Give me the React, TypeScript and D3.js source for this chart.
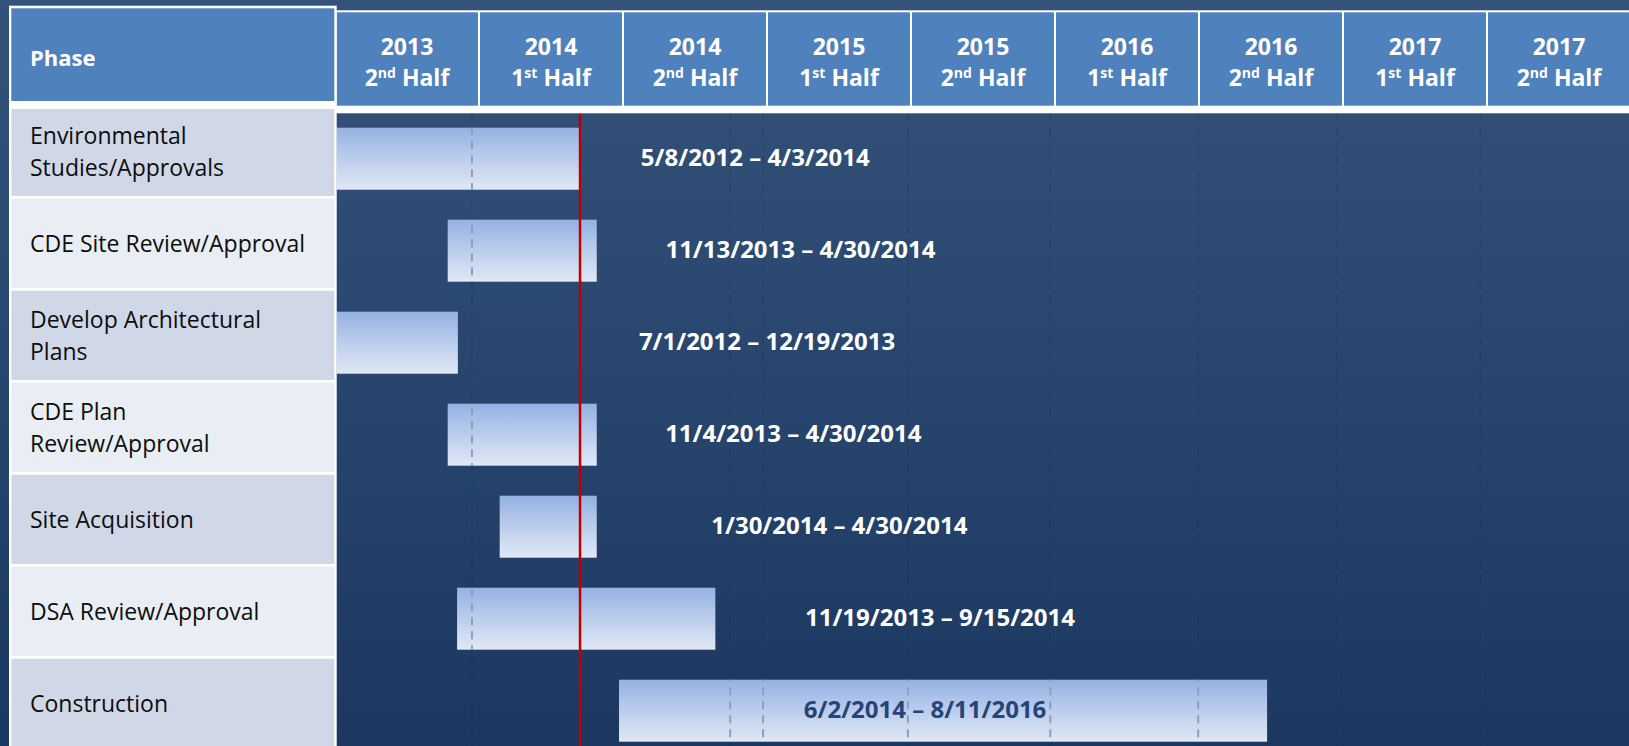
import React from "react";
import * as d3 from "d3";

// ---------------- data ----------------
const phaseNames = [
  "Environmental Studies/Approvals",
  "CDE Site Review/Approval",
  "Develop Architectural Plans",
  "CDE Plan Review/Approval",
  "Site Acquisition",
  "DSA Review/Approval",
  "Construction",
];
const phaseLabelLines = [
  ["Environmental", "Studies/Approvals"],
  ["CDE Site Review/Approval"],
  ["Develop Architectural", "Plans"],
  ["CDE Plan", "Review/Approval"],
  ["Site Acquisition"],
  ["DSA Review/Approval"],
  ["Construction"],
];
// bar extents as drawn on the half-year axis
const barStarts = ["2012-05-08", "2013-11-22", "2012-07-01", "2013-11-22", "2014-01-27", "2013-12-04", "2014-06-26"];
const barEnds = ["2014-05-07", "2014-05-29", "2013-12-05", "2014-05-29", "2014-05-29", "2014-10-27", "2016-09-26"];
const dateRangeLabels = [
  "5/8/2012 – 4/3/2014",
  "11/13/2013 – 4/30/2014",
  "7/1/2012 – 12/19/2013",
  "11/4/2013 – 4/30/2014",
  "1/30/2014 – 4/30/2014",
  "11/19/2013 – 9/15/2014",
  "6/2/2014 – 8/11/2016",
];
// where each date label is centred on the axis
const labelCenters = ["2014-12-17", "2015-02-12", "2015-01-01", "2015-02-03", "2015-04-02", "2015-08-07", "2015-07-19"];
const periodYears = [2013, 2014, 2014, 2015, 2015, 2016, 2016, 2017, 2017];
const periodHalves = [2, 1, 2, 1, 2, 1, 2, 1, 2];
const halfSuffix: Record<number, string> = { 1: "st", 2: "nd" };
const todayDate = "2014-05-08";
const gridDates = ["2013-12-23", "2014-11-15", "2014-12-27", "2015-06-27", "2015-12-26", "2016-06-30", "2016-12-24", "2017-06-23"];

// ---------------- layout ----------------
const W = 1629;
const H = 746;
const X0 = 335;
const COL_W = 144;
const ROW_TOP = 106.7;
const ROW_H = 92;
const FONT = "'Open Sans', 'Noto Sans', sans-serif";

const parse = d3.timeParse("%Y-%m-%d");

export default function App() {
  const periodStarts = periodYears.map((y, i) => new Date(y, periodHalves[i] === 1 ? 0 : 6, 1));
  const last = periodStarts.length - 1;
  const periodEnd = new Date(periodYears[last] + (periodHalves[last] === 2 ? 1 : 0), periodHalves[last] === 2 ? 0 : 6, 1);
  const domain = [...periodStarts, periodEnd];
  const x = d3
    .scaleTime()
    .domain(domain)
    .range(domain.map((_, i) => X0 + COL_W * i));

  const y = d3
    .scaleBand<string>()
    .domain(phaseNames)
    .range([ROW_TOP, ROW_TOP + ROW_H * phaseNames.length]);

  const plotLeft = X0 + 1.5;
  const headerBottom = 113.3;

  const bars = phaseNames.map((p, i) => {
    const x1 = Math.max(plotLeft, x(parse(barStarts[i])!));
    const x2 = x(parse(barEnds[i])!);
    const top = (y(p) as number) + 21;
    return { p, x1, x2, top, h: 62 };
  });

  const todayX = x(parse(todayDate)!);

  return (
    <svg
      width={W}
      height={H}
      style={{ position: "absolute", left: 0, top: 0, display: "block" }}
      fontFamily={FONT}
    >
      <defs>
        <linearGradient id="bg" x1="0" y1="0" x2="0" y2="1">
          <stop offset="0" stopColor="#34537b" />
          <stop offset="1" stopColor="#1c3860" />
        </linearGradient>
        <linearGradient id="barGrad" x1="0" y1="0" x2="0" y2="1">
          <stop offset="0" stopColor="#95b2e3" />
          <stop offset="1" stopColor="#e1e8f5" />
        </linearGradient>
        <clipPath id="barClip">
          {bars.map((b, i) => (
            <rect key={i} x={b.x1} y={b.top} width={b.x2 - b.x1} height={b.h} />
          ))}
        </clipPath>
      </defs>

      <rect x={0} y={0} width={W} height={H} fill="url(#bg)" />

      {/* faint grid lines on the background */}
      {gridDates.map((d, i) => {
        const gx = x(parse(d)!);
        return (
          <line key={i} x1={gx} x2={gx} y1={headerBottom} y2={H} stroke="#17304f" strokeOpacity={0.28} strokeWidth={1.5} strokeDasharray="8,6" />
        );
      })}

      {/* bars */}
      {bars.map((b, i) => (
        <rect key={i} x={b.x1} y={b.top} width={b.x2 - b.x1} height={b.h} fill="url(#barGrad)" />
      ))}

      {/* grid lines visible over the bars */}
      <g clipPath="url(#barClip)">
        {gridDates.map((d, i) => {
          const gx = x(parse(d)!);
          return (
            <line key={i} x1={gx} x2={gx} y1={headerBottom} y2={H} stroke="#8aa0bc" strokeWidth={2} strokeDasharray="8,6" />
          );
        })}
      </g>

      {/* date range labels */}
      {dateRangeLabels.map((t, i) => {
        const cx = x(parse(labelCenters[i])!);
        const b = bars[i];
        const inside = cx > b.x1 && cx < b.x2;
        return (
          <text
            key={i}
            x={cx}
            y={b.top + 30 + 8.5}
            textAnchor="middle"
            fontSize={24}
            fontWeight={700}
            fill={inside ? "#254477" : "#ffffff"}
          >
            {t}
          </text>
        );
      })}

      {/* today line */}
      <line x1={todayX} x2={todayX} y1={headerBottom} y2={H} stroke="#c00000" strokeWidth={2.5} />

      {/* header frame */}
      <rect x={X0} y={10.3} width={W - X0} height={headerBottom - 10.3} fill="#ffffff" />
      {periodYears.map((yr, i) => {
        const left = x(periodStarts[i]);
        const right = x(domain[i + 1]);
        const cx = (left + right) / 2;
        return (
          <g key={i}>
            <rect x={Math.max(left + 1, 336.7)} y={12.3} width={right - 1 - Math.max(left + 1, 336.7)} height={93.4} fill="#4f81bd" />
            <text x={cx} y={54.5} textAnchor="middle" fontSize={23} fontWeight={700} fill="#ffffff">
              {yr}
            </text>
            <text x={cx} y={86} textAnchor="middle" fontSize={23} fontWeight={700} fill="#ffffff">
              <tspan>{periodHalves[i]}</tspan>
              <tspan fontSize={14} dy={-8}>
                {halfSuffix[periodHalves[i]]}
              </tspan>
              <tspan dy={8}>{" Half"}</tspan>
            </text>
          </g>
        );
      })}

      {/* phase column */}
      <rect x={9} y={5.7} width={327.7} height={H - 5.7} fill="#ffffff" />
      <rect x={11.3} y={8.3} width={323} height={92.7} fill="#4f81bd" />
      <text x={30} y={66} fontSize={22} fontWeight={700} fill="#ffffff">
        Phase
      </text>
      {phaseNames.map((p, i) => {
        const top = Math.max(109, y(p) as number);
        const bottom = (y(p) as number) + ROW_H - 2.7;
        const center = ((y(p) as number) + (y(p) as number) + ROW_H - 2.7) / 2;
        const lines = phaseLabelLines[i];
        return (
          <g key={p}>
            <rect x={11.3} y={top} width={323} height={bottom - top} fill={i % 2 === 0 ? "#d0d8e8" : "#e9edf4"} />
            {lines.map((ln, j) => (
              <text
                key={j}
                x={30}
                y={center + 9 + (j - (lines.length - 1) / 2) * 32}
                fontSize={23}
                fill="#0d0d0d"
              >
                {ln}
              </text>
            ))}
          </g>
        );
      })}
    </svg>
  );
}
